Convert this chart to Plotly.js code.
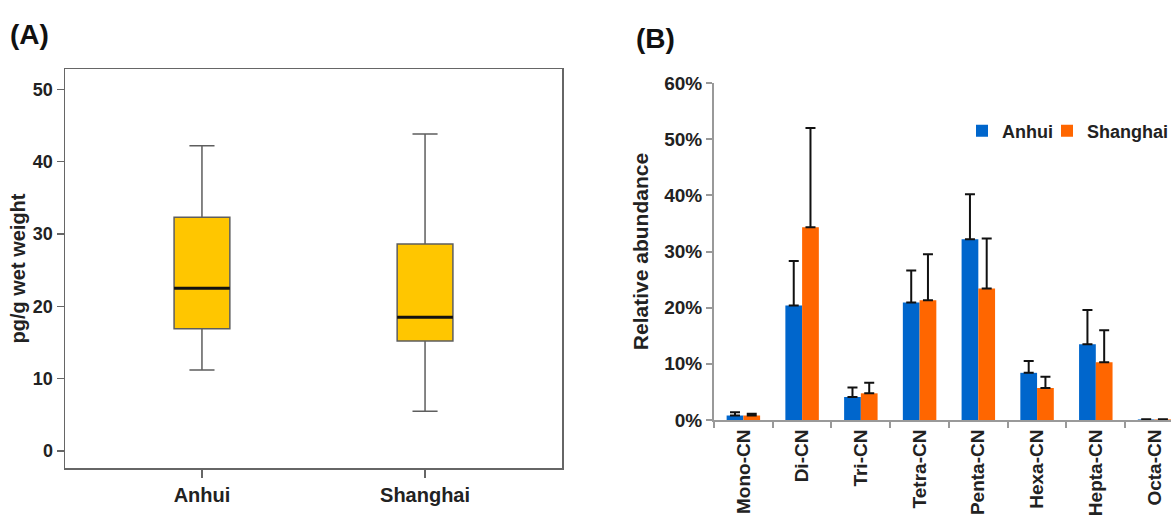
<!DOCTYPE html>
<html>
<head>
<meta charset="utf-8">
<script src="https://cdn.plot.ly/plotly-3.0.1.min.js"></script>
<style>html,body{margin:0;padding:0;background:#fff;}#chart{width:1171px;height:521px;}</style>
</head>
<body>
<div id="chart"></div>
<script>
// Panel A: box plot summary (pg/g wet weight)
var regions = ['Anhui', 'Shanghai'];
var lowerWhisker = [11.2, 5.5];
var q1 = [16.9, 15.2];
var medians = [22.5, 18.5];
var q3 = [32.3, 28.6];
var upperWhisker = [42.2, 43.8];

// Panel B: relative abundance by homologue group
var homologues = ['Mono-CN', 'Di-CN', 'Tri-CN', 'Tetra-CN', 'Penta-CN', 'Hexa-CN', 'Hepta-CN', 'Octa-CN'];
var anhuiMean = [0.008, 0.204, 0.041, 0.209, 0.322, 0.084, 0.135, 0.001];
var anhuiErr = [0.006, 0.079, 0.017, 0.057, 0.080, 0.021, 0.061, 0.0005];
var shanghaiMean = [0.008, 0.343, 0.0475, 0.213, 0.234, 0.057, 0.103, 0.001];
var shanghaiErr = [0.003, 0.177, 0.019, 0.082, 0.089, 0.020, 0.057, 0.0005];

var FONT = 'Liberation Sans, Arial, sans-serif';
var BOLD = function (size, color) { return {family: FONT, size: size, color: color || '#222', weight: 'bold'}; };

var boxHalf = 0.125;

var traces = [
  {
    type: 'box', x: regions, q1: q1, median: medians, q3: q3,
    lowerfence: lowerWhisker, upperfence: upperWhisker,
    fillcolor: '#FFC600', line: {color: '#5e5e5e', width: 1.5},
    width: boxHalf * 2, whiskerwidth: 0.45, boxpoints: false,
    hoverinfo: 'skip', showlegend: false, xaxis: 'x', yaxis: 'y'
  },
  {
    type: 'bar', name: 'Anhui', x: homologues, y: anhuiMean,
    marker: {color: '#0066CC'}, legend: 'legend',
    error_y: {type: 'data', symmetric: false, array: anhuiErr, arrayminus: anhuiMean.map(function(){return 0;}), color: '#111', thickness: 2, width: 5},
    xaxis: 'x2', yaxis: 'y2'
  },
  {
    type: 'bar', name: 'Shanghai', x: homologues, y: shanghaiMean,
    marker: {color: '#FF6600'}, legend: 'legend2',
    error_y: {type: 'data', symmetric: false, array: shanghaiErr, arrayminus: shanghaiMean.map(function(){return 0;}), color: '#111', thickness: 2, width: 5},
    xaxis: 'x2', yaxis: 'y2'
  }
];

var shapes = medians.map(function (m, i) {
  return {type: 'line', xref: 'x', yref: 'y', x0: i - boxHalf, x1: i + boxHalf, y0: m, y1: m,
          line: {color: '#111', width: 3}, layer: 'above'};
});

var legendBase = {
  orientation: 'h', xref: 'container', yref: 'container',
  xanchor: 'left', y: 1 - 131 / 521, yanchor: 'middle',
  font: BOLD(18), bgcolor: 'rgba(0,0,0,0)', itemwidth: 30
};

var layout = {
  width: 1171, height: 521,
  margin: {l: 0, r: 0, t: 0, b: 0, autoexpand: false},
  paper_bgcolor: '#fff', plot_bgcolor: '#fff',
  showlegend: true,
  barmode: 'group', bargap: 0.43, bargroupgap: 0,
  font: {family: FONT, color: '#222'},
  xaxis: {
    domain: [65 / 1171, 562 / 1171], anchor: 'y',
    type: 'category', range: [-0.614, 1.614],
    showline: true, mirror: true, linecolor: '#666', linewidth: 1.5,
    ticks: 'outside', ticklen: 8, tickwidth: 1.5, tickcolor: '#666',
    tickfont: BOLD(20), showgrid: false, zeroline: false, fixedrange: true
  },
  yaxis: {
    domain: [1 - 468 / 521, 1 - 69 / 521], anchor: 'x',
    range: [-2.35, 52.8], tickvals: [0, 10, 20, 30, 40, 50],
    showline: true, mirror: true, linecolor: '#666', linewidth: 1.5,
    ticks: 'outside', ticklen: 7, tickwidth: 1.5, tickcolor: '#666',
    tickfont: BOLD(18), showgrid: false, zeroline: false,
    title: {text: 'pg/g wet weight', font: BOLD(20), standoff: 2}, fixedrange: true
  },
  xaxis2: {
    domain: [714 / 1171, 1], anchor: 'y2',
    type: 'category', range: [-0.5, 7.28],
    showline: true, linecolor: '#999', linewidth: 2,
    ticks: 'outside', tickson: 'boundaries', ticklen: 6, tickwidth: 2, tickcolor: '#999',
    tickangle: -90, tickfont: BOLD(19), showgrid: false, zeroline: false, fixedrange: true
  },
  yaxis2: {
    domain: [1 - 420 / 521, 1 - 83 / 521], anchor: 'x2',
    range: [0, 0.6], tickvals: [0, 0.1, 0.2, 0.3, 0.4, 0.5, 0.6], tickformat: '.0%',
    showline: true, linecolor: '#999', linewidth: 2,
    ticks: 'outside', ticklen: 6, tickwidth: 2, tickcolor: '#999',
    tickfont: BOLD(19), showgrid: false, zeroline: false,
    title: {text: 'Relative abundance', font: BOLD(21), standoff: 10}, fixedrange: true
  },
  legend: Object.assign({}, legendBase, {x: 962 / 1171}),
  legend2: Object.assign({}, legendBase, {x: 1047 / 1171}),
  shapes: shapes,
  annotations: [
    {text: '(A)', xref: 'paper', yref: 'paper', x: 8 / 1171, y: 1 - 35 / 521, xanchor: 'left', yanchor: 'middle', showarrow: false, font: BOLD(28, '#111')},
    {text: '(B)', xref: 'paper', yref: 'paper', x: 634 / 1171, y: 1 - 38 / 521, xanchor: 'left', yanchor: 'middle', showarrow: false, font: BOLD(28, '#111')}
  ]
};

Plotly.newPlot('chart', traces, layout, {displayModeBar: false, staticPlot: true});
</script>
</body>
</html>
